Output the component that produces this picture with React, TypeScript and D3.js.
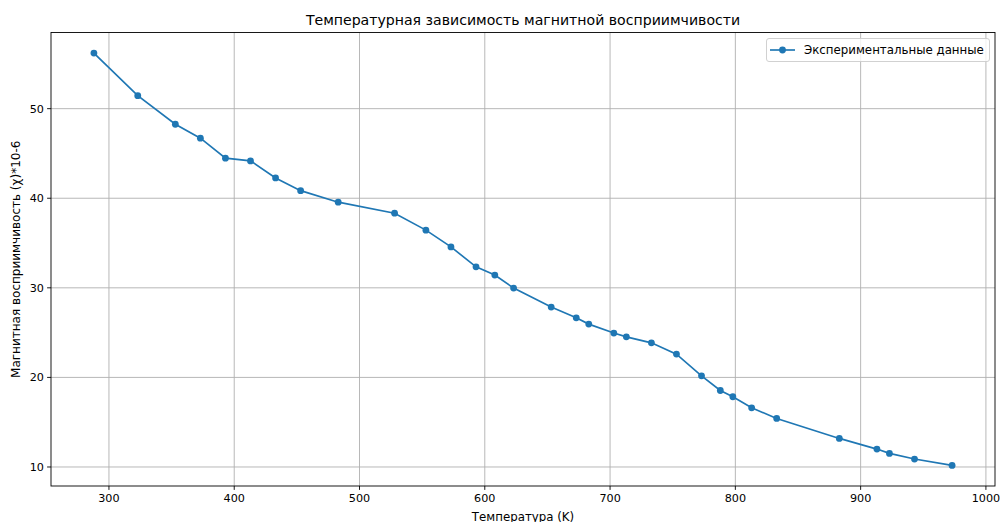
import React from "react";
import * as d3 from "d3";

const temperatures = [288, 323, 353, 373, 393, 413, 433, 453, 483, 528, 553, 573, 593, 608, 623, 653, 673, 683, 703, 713, 733, 753, 773, 788, 798, 813, 833, 883, 913, 923, 943, 973];
const susceptibility = [56.2, 51.45, 48.26, 46.7, 44.47, 44.17, 42.27, 40.85, 39.56, 38.33, 36.44, 34.57, 32.34, 31.42, 29.97, 27.85, 26.65, 25.95, 24.95, 24.53, 23.86, 22.6, 20.18, 18.54, 17.84, 16.61, 15.42, 13.19, 12.0, 11.52, 10.89, 10.18];
const xTicks = [300, 400, 500, 600, 700, 800, 900, 1000];
const yTicks = [10, 20, 30, 40, 50];

const title = "Температурная зависимость магнитной восприимчивости";
const xLabel = "Температура (K)";
const yLabel = "Магнитная восприимчивость (χ)*10-6";
const legendLabel = "Экспериментальные данные";

const W = 1001, H = 522;
const L = 51, R = 995, T = 32.5, B = 486;
const COLOR = "#1f77b4";
const FONT = "DejaVu Sans, sans-serif";

export default function App() {
  const xmin = d3.min(temperatures)!, xmax = d3.max(temperatures)!;
  const ymin = d3.min(susceptibility)!, ymax = d3.max(susceptibility)!;
  const xm = (xmax - xmin) * 0.05, ym = (ymax - ymin) * 0.05;
  const x = d3.scaleLinear().domain([xmin - xm, xmax + xm]).range([L, R]);
  const y = d3.scaleLinear().domain([ymin - ym, ymax + ym]).range([B, T]);
  const pts = temperatures.map((t, i) => [t, susceptibility[i]] as [number, number]);
  const line = d3.line<[number, number]>().x(d => x(d[0])).y(d => y(d[1]));

  return (
    <svg width={W} height={H} style={{ position: "absolute", left: 0, top: 0, background: "#fff" }} fontFamily={FONT}>
      <rect x={0} y={0} width={W} height={H} fill="#fff" />
      {/* grid */}
      {xTicks.map(t => (
        <line key={"gx" + t} x1={x(t)} x2={x(t)} y1={T} y2={B} stroke="#b0b0b0" strokeWidth={0.9} />
      ))}
      {yTicks.map(t => (
        <line key={"gy" + t} x1={L} x2={R} y1={y(t)} y2={y(t)} stroke="#b0b0b0" strokeWidth={0.9} />
      ))}
      {/* data */}
      <path d={line(pts)!} fill="none" stroke={COLOR} strokeWidth={1.67} />
      {pts.map((p, i) => (
        <circle key={i} cx={x(p[0])} cy={y(p[1])} r={3.4} fill={COLOR} />
      ))}
      {/* spines */}
      <rect x={L} y={T} width={R - L} height={B - T} fill="none" stroke="#000" strokeWidth={0.9} />
      {/* ticks */}
      {xTicks.map(t => (
        <g key={"tx" + t}>
          <line x1={x(t)} x2={x(t)} y1={B} y2={B + 3.9} stroke="#000" strokeWidth={0.9} />
          <text x={x(t)} y={B + 16} textAnchor="middle" fontSize={11.2} fill="#000">{t}</text>
        </g>
      ))}
      {yTicks.map(t => (
        <g key={"ty" + t}>
          <line x1={L - 3.9} x2={L} y1={y(t)} y2={y(t)} stroke="#000" strokeWidth={0.9} />
          <text x={L - 7} y={y(t)} dy="0.36em" textAnchor="end" fontSize={11.2} fill="#000">{t}</text>
        </g>
      ))}
      {/* title & labels */}
      <text x={(L + R) / 2} y={24.5} textAnchor="middle" fontSize={14.1} fill="#000">{title}</text>
      <text x={(L + R) / 2} y={521} textAnchor="middle" fontSize={11.8} fill="#000">{xLabel}</text>
      <text transform={`translate(20,${(T + B) / 2}) rotate(-90)`} textAnchor="middle" fontSize={12} fill="#000">{yLabel}</text>
      {/* legend */}
      <g>
        <rect x={766.5} y={38.5} width={223} height={23} rx={2.5} fill="#fff" fillOpacity={0.8} stroke="#cccccc" strokeWidth={0.9} />
        <line x1={770} x2={795} y1={50} y2={50} stroke={COLOR} strokeWidth={1.67} />
        <circle cx={782.5} cy={50} r={3.4} fill={COLOR} />
        <text x={804} y={50} dy="0.36em" fontSize={11.8} fill="#000">{legendLabel}</text>
      </g>
    </svg>
  );
}
